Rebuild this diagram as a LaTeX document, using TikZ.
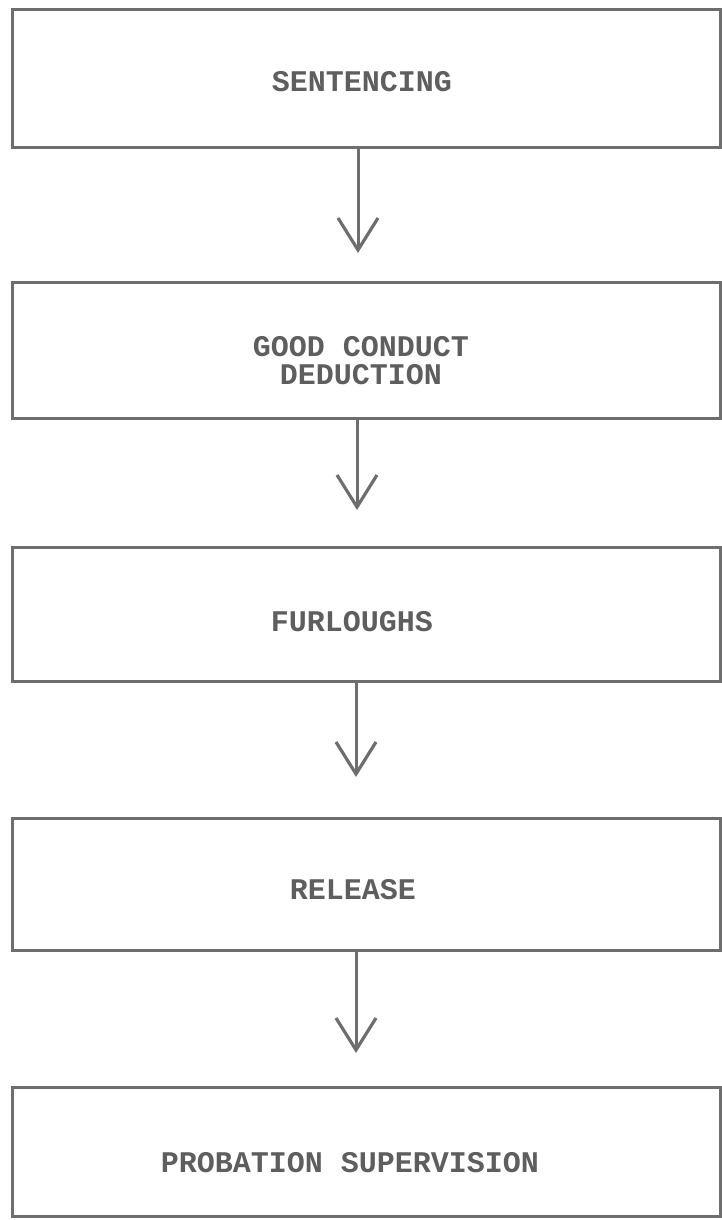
\documentclass[tikz,border=0pt]{standalone}
\usepackage{fontspec}
\setmonofont{Liberation Mono}
\usetikzlibrary{arrows.meta}
\definecolor{linegray}{HTML}{6E6E6E}
\definecolor{textgray}{HTML}{5E5E5E}
\tikzset{
  box/.style={draw=linegray, line width=1.5pt, rectangle, minimum width=354pt, inner sep=0pt},
  lbl/.style={font=\ttfamily\bfseries\fontsize{15pt}{14pt}\selectfont, text=textgray, align=center, inner sep=0pt},
  arr/.style={draw=linegray, line width=1.5pt, -{Straight Barb[length=16pt,width=20pt,line width=1.6pt]}}
}
\begin{document}
\begin{tikzpicture}[x=0.5pt,y=-0.5pt]
\useasboundingbox (0,0) rectangle (722,1220);
% boxes
\node[box, minimum height=68.5pt] (b1) at (366,78.5) {};
\node[box, minimum height=68pt] (b2) at (366,350) {};
\node[box, minimum height=67pt] (b3) at (366,614) {};
\node[box, minimum height=66pt] (b4) at (366,884) {};
\node[box, minimum height=64.5pt] (b5) at (366,1151.5) {};
% labels
\node[lbl] (l1) at (362,82) {SENTENCING};
\node[lbl] (l2) at (361,361) {GOOD CONDUCT\\DEDUCTION};
\node[lbl] (l3) at (352,622) {FURLOUGHS};
\node[lbl] (l4) at (353,890) {RELEASE};
\node[lbl] (l5) at (350,1163) {PROBATION SUPERVISION};
% arrow tips
\coordinate (t1) at (358,253);
\coordinate (t2) at (357,510);
\coordinate (t3) at (356,777);
\coordinate (t4) at (356,1053);
\draw[arr] (b1.south -| t1) -- (t1);
\draw[arr] (b2.south -| t2) -- (t2);
\draw[arr] (b3.south -| t3) -- (t3);
\draw[arr] (b4.south -| t4) -- (t4);
\end{tikzpicture}
\end{document}
